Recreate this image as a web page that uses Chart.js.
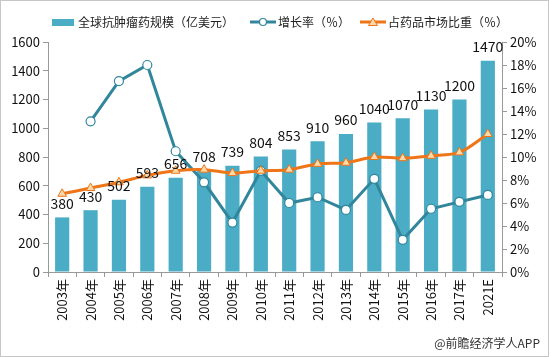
<!DOCTYPE html>
<html><head><meta charset="utf-8">
<script src="https://cdn.jsdelivr.net/npm/chart.js@4/dist/chart.umd.min.js"></script>
<style>html,body{margin:0;padding:0;background:#fff;}#wrap{position:relative;width:549px;height:357px;}</style>
</head><body><div id="wrap"><canvas id="c" width="549" height="357"></canvas></div>
<script>
const categories = ['2003年','2004年','2005年','2006年','2007年','2008年','2009年','2010年','2011年','2012年','2013年','2014年','2015年','2016年','2017年','2021E'];
const marketSize = [380,430,502,593,656,708,739,804,853,910,960,1040,1070,1130,1200,1470];
const growthRate = [null,13.1,16.6,18.0,10.5,7.8,4.3,8.8,6.0,6.5,5.4,8.1,2.8,5.5,6.1,6.7];
const sharePct = [6.8,7.3,7.8,8.4,8.8,8.9,8.6,8.8,8.9,9.4,9.5,10.0,9.9,10.1,10.4,12.0];
const leftTicks = [0,200,400,600,800,1000,1200,1400,1600];
const rightTicks = [0,2,4,6,8,10,12,14,16,18,20];
const legendLabels = ['全球抗肿瘤药规模（亿美元）','增长率（％）','占药品市场比重（％）'];
const sourceText = '@前瞻经济学人APP';

const FONT = '"Noto Sans CJK SC", "Microsoft YaHei", sans-serif';
const BAR = '#4BACC6', TEAL = '#31869B', ORANGE = '#EE7518', TRI = '#FBD9A8';

const extras = {
  id: 'extras',
  beforeDraw(chart) {
    const ctx = chart.ctx;
    ctx.save();
    ctx.fillStyle = '#fff';
    ctx.fillRect(0, 0, chart.width, chart.height);
    ctx.restore();
  },
  afterDatasetsDraw(chart) {
    const ctx = chart.ctx;
    const meta = chart.getDatasetMeta(0);
    ctx.save();
    ctx.font = '14px ' + FONT;
    ctx.fillStyle = '#111';
    ctx.textAlign = 'center';
    ctx.textBaseline = 'middle';
    meta.data.forEach((el, i) => {
      ctx.fillText(String(marketSize[i]), el.x, el.y - 14);
    });
    ctx.restore();
  },
  afterDraw(chart) {
    const ctx = chart.ctx;
    ctx.save();
    const ly = 22;
    ctx.font = '12px ' + FONT;
    ctx.textBaseline = 'middle';
    ctx.fillStyle = BAR;
    ctx.fillRect(52, 19, 22, 7);
    ctx.fillStyle = '#222';
    ctx.fillText(legendLabels[0], 78, ly);
    ctx.strokeStyle = TEAL; ctx.lineWidth = 3;
    ctx.beginPath(); ctx.moveTo(250, ly); ctx.lineTo(276, ly); ctx.stroke();
    ctx.fillStyle = '#fff'; ctx.lineWidth = 1.2;
    ctx.beginPath(); ctx.arc(263, ly, 3.5, 0, Math.PI * 2); ctx.fill(); ctx.stroke();
    ctx.fillStyle = '#222';
    ctx.fillText(legendLabels[1], 278, ly);
    ctx.strokeStyle = ORANGE; ctx.lineWidth = 3;
    ctx.beginPath(); ctx.moveTo(360, ly); ctx.lineTo(386, ly); ctx.stroke();
    ctx.fillStyle = TRI; ctx.lineWidth = 1;
    ctx.beginPath(); ctx.moveTo(373, ly - 4); ctx.lineTo(377.5, ly + 3.5); ctx.lineTo(368.5, ly + 3.5); ctx.closePath(); ctx.fill(); ctx.stroke();
    ctx.fillStyle = '#222';
    ctx.fillText(legendLabels[2], 388, ly);
    ctx.font = '12px ' + FONT;
    ctx.textAlign = 'right';
    ctx.fillStyle = '#333';
    ctx.fillText(sourceText, 540, 343);
    ctx.strokeStyle = '#c6c6c6'; ctx.lineWidth = 1;
    ctx.strokeRect(0.5, 0.5, chart.width - 1, chart.height - 1);
    ctx.restore();
  }
};

new Chart(document.getElementById('c'), {
  data: {
    labels: categories,
    datasets: [
      { type: 'bar', label: legendLabels[0], data: marketSize, yAxisID: 'y', backgroundColor: BAR,
        barPercentage: 0.5, categoryPercentage: 1.0, order: 3 },
      { type: 'line', label: legendLabels[1], data: growthRate, yAxisID: 'y1', borderColor: TEAL, borderWidth: 3,
        pointStyle: 'circle', pointRadius: 4.5, pointBackgroundColor: '#fff', pointBorderColor: TEAL, pointBorderWidth: 1.2,
        tension: 0, spanGaps: false, order: 2 },
      { type: 'line', label: legendLabels[2], data: sharePct, yAxisID: 'y1', borderColor: ORANGE, borderWidth: 3,
        pointStyle: 'triangle', pointRadius: 5, pointBackgroundColor: TRI, pointBorderColor: ORANGE, pointBorderWidth: 1,
        tension: 0.3, order: 1 }
    ]
  },
  options: {
    responsive: false,
    animation: false,
    layout: { padding: { top: 42, bottom: 0, left: 0, right: 0 } },
    plugins: { legend: { display: false }, tooltip: { enabled: false } },
    scales: {
      x: {
        grid: { display: true, drawOnChartArea: false, offset: true, color: '#999', tickLength: 5 },
        border: { color: '#999' },
        ticks: { minRotation: 90, maxRotation: 90, autoSkip: false, color: '#111', font: { family: FONT, size: 13 }, padding: 2 },
        afterFit(s) { s.height = 85; }
      },
      y: {
        position: 'left', min: 0, max: 1600,
        afterBuildTicks(s) { s.ticks = leftTicks.map(v => ({ value: v })); },
        grid: { display: true, drawOnChartArea: false, color: '#999', tickLength: 5 },
        border: { color: '#999' },
        ticks: { color: '#111', font: { family: FONT, size: 13 }, padding: 3, callback: v => String(v) },
        afterFit(s) { s.width = 48; }
      },
      y1: {
        position: 'right', min: 0, max: 20,
        afterBuildTicks(s) { s.ticks = rightTicks.map(v => ({ value: v })); },
        grid: { display: true, drawOnChartArea: false, color: '#999', tickLength: 5 },
        border: { color: '#999' },
        ticks: { color: '#111', font: { family: FONT, size: 13 }, padding: 3, callback: v => v + '%' },
        afterFit(s) { s.width = 47; }
      }
    }
  },
  plugins: [extras]
});
</script></body></html>
